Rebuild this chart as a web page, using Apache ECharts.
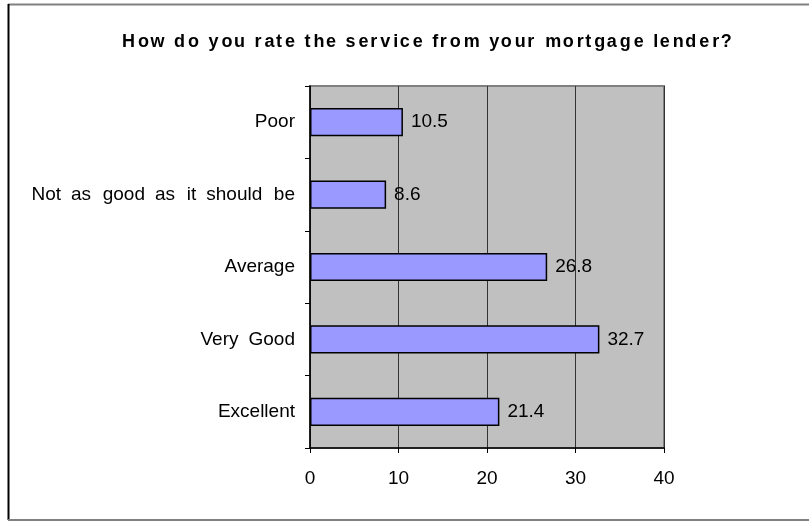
<!DOCTYPE html>
<html>
<head>
<meta charset="utf-8">
<script src="https://cdn.jsdelivr.net/npm/echarts@6/dist/echarts.min.js"></script>
<style>html,body{margin:0;padding:0;background:#fff;}#c{width:809px;height:522px;}</style>
</head>
<body>
<div id="c"></div>
<script>
const titleText = "How do you rate the service from your mortgage lender?";
const categories = ["Poor", "Not as good as it should be", "Average", "Very Good", "Excellent"];
const values = [10.5, 8.6, 26.8, 32.7, 21.4];
const xTicks = [0, 10, 20, 30, 40];

const fam = '"Liberation Sans", Arial, sans-serif';
const HS = '\u200A';
const mctx = document.createElement('canvas').getContext('2d');
// Insert hair spaces so the text is spread like the reference (char spacing px, word spacing px)
function spread(text, font, charPx, wordPx) {
  mctx.font = font;
  const hw = mctx.measureText(HS).width;
  if (!hw) return text;
  const chars = Array.from(text);
  let out = '', acc = 0;
  chars.forEach((c, i) => {
    out += c;
    if (i < chars.length - 1) {
      acc += charPx + (c === ' ' ? wordPx : 0);
      const n = Math.floor(acc / hw + 0.5);
      if (n > 0) { out += HS.repeat(n); acc -= n * hw; }
    }
  });
  return out;
}
function spreadTo(text, font, target) {
  mctx.font = font;
  const w = mctx.measureText(text).width;
  const n = Array.from(text).length - 1;
  return spread(text, font, Math.max(0, (target - w) / n), 0);
}

const titleFont = 'bold 18px ' + fam;
const labelFont = '19px ' + fam;
const titleShown = spreadTo(titleText, titleFont, 610);

const chart = echarts.init(document.getElementById('c'), null, {renderer: 'canvas'});
chart.setOption({
  animation: false,
  backgroundColor: '#ffffff',
  title: {
    text: titleShown,
    left: 117,
    top: 28,
    textStyle: {fontFamily: fam, fontSize: 18, fontWeight: 'bold', color: '#000'}
  },
  graphic: [
    {type: 'line', shape: {x1: 8, y1: 4.5, x2: 809, y2: 4.5}, style: {stroke: '#808080', lineWidth: 2}},
    {type: 'line', shape: {x1: 8.5, y1: 4, x2: 8.5, y2: 520}, style: {stroke: '#000000', lineWidth: 2}},
    {type: 'line', shape: {x1: 8, y1: 520, x2: 809, y2: 520}, style: {stroke: '#808080', lineWidth: 2}}
  ],
  grid: {
    left: 310, top: 86, right: 145, bottom: 74,
    show: true, backgroundColor: '#C0C0C0', borderColor: '#808080', borderWidth: 2
  },
  xAxis: {
    type: 'value', min: xTicks[0], max: xTicks[xTicks.length - 1], interval: 10,
    axisLine: {show: true, lineStyle: {color: '#000', width: 1.5}},
    axisTick: {show: true, length: 5, lineStyle: {color: '#000'}},
    splitLine: {show: true, lineStyle: {color: '#333', width: 1}},
    axisLabel: {margin: 21, fontFamily: fam, fontSize: 19, color: '#000'}
  },
  yAxis: {
    type: 'category', data: categories, inverse: true,
    axisLine: {show: true, lineStyle: {color: '#000', width: 1.5}},
    axisTick: {show: true, length: 5, lineStyle: {color: '#000'}},
    axisLabel: {
      margin: 15, fontFamily: fam, fontSize: 19, color: '#000',
      formatter: v => spread(v, labelFont, 0, 5.5)
    }
  },
  series: [{
    type: 'bar', data: values, barWidth: '39%',
    itemStyle: {color: '#9999FF', borderColor: '#000', borderWidth: 1.5},
    label: {show: true, position: 'right', distance: 8, fontFamily: fam, fontSize: 19, color: '#000'}
  }]
});
</script>
</body>
</html>
